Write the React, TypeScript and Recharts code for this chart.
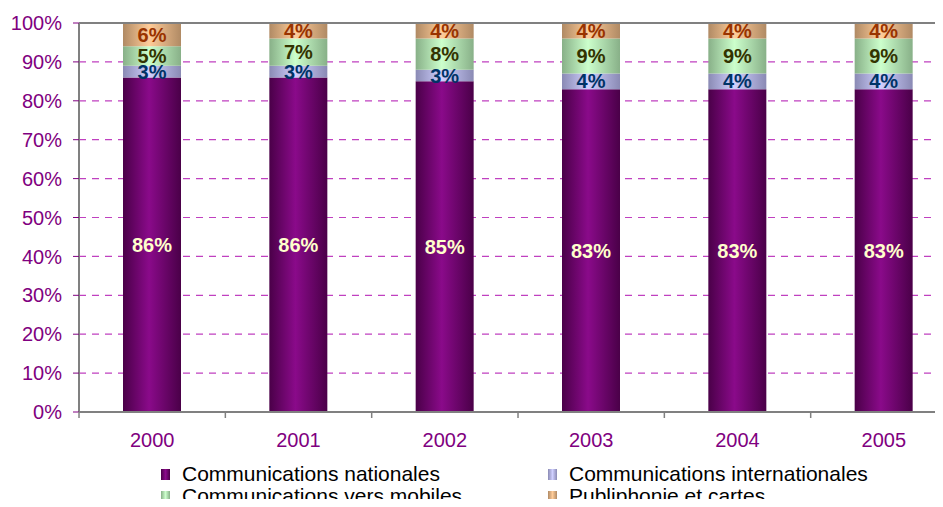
import { Bar, BarChart, CartesianGrid, LabelList, ReferenceLine, XAxis, YAxis } from 'recharts';

const years = ['2000', '2001', '2002', '2003', '2004', '2005'];
const nationales = [86, 86, 85, 83, 83, 83];
const internationales = [3, 3, 3, 4, 4, 4];
const mobiles = [5, 7, 8, 9, 9, 9];
const publiphonie = [6, 4, 4, 4, 4, 4];
const yTicks = [0, 10, 20, 30, 40, 50, 60, 70, 80, 90, 100];

const series = [
  { key: 'nat', name: 'Communications nationales', light: '#8a0a8a', dark: '#4a0048', label: '#ffffcc' },
  { key: 'int', name: 'Communications internationales', light: '#d0d0ff', dark: '#8a8ab4', label: '#003366' },
  { key: 'mob', name: 'Communications vers mobiles', light: '#ccffcc', dark: '#88b088', label: '#333300' },
  { key: 'pub', name: 'Publiphonie et cartes', light: '#ffcc99', dark: '#b08a64', label: '#993300' },
];

const data = years.map((year, i) => ({
  year,
  nat: nationales[i],
  int: internationales[i],
  mob: mobiles[i],
  pub: publiphonie[i],
}));

const FONT = 'Arial, "Liberation Sans", sans-serif';
const PURPLE = '#800080';
const BAND = 146.3;

const XTick = ({ x, y, payload }: any) => (
  <g>
    <line x1={x - BAND / 2} x2={x - BAND / 2} y1={y} y2={y + 6} stroke="#808080" strokeWidth={1.5} />
    <text x={x} y={y + 35} textAnchor="middle" fill={PURPLE} fontSize={20} fontFamily={FONT}>
      {payload.value}
    </text>
  </g>
);

const legendPos = [
  { left: 161, top: 462 },
  { left: 548, top: 462 },
  { left: 161, top: 484 },
  { left: 548, top: 484 },
];

export default function App() {
  return (
    <div style={{ position: 'relative', width: 943, height: 507, margin: -8, overflow: 'hidden', background: '#fff' }}>
      <BarChart
        width={943}
        height={507}
        data={data}
        margin={{ top: 23, right: -14, left: 0, bottom: 65 }}
        barSize={58}
      >
        <defs>
          {series.map((s) => (
            <linearGradient key={s.key} id={`g-${s.key}`} x1="0" y1="0" x2="1" y2="0">
              <stop offset="0%" stopColor={s.dark} />
              <stop offset="45%" stopColor={s.light} />
              <stop offset="100%" stopColor={s.dark} />
            </linearGradient>
          ))}
        </defs>
        <CartesianGrid vertical={false} stroke="#c040c0" strokeDasharray="7 6" strokeWidth={1.2} />
        <XAxis
          dataKey="year"
          height={30}
          tickSize={0}
          tickMargin={0}
          tickLine={false}
          tick={<XTick />}
          axisLine={{ stroke: '#808080', strokeWidth: 2 }}
          interval={0}
        />
        <YAxis
          width={79}
          domain={[0, 100]}
          ticks={yTicks}
          interval={0}
          tickFormatter={(v) => `${v}%`}
          tick={{ fill: PURPLE, fontSize: 20, fontFamily: FONT }}
          tickSize={6}
          tickMargin={11}
          tickLine={{ stroke: PURPLE }}
          axisLine={{ stroke: '#808080', strokeWidth: 2 }}
        />
        <ReferenceLine y={100} stroke="#808080" strokeWidth={2} />
        {series.map((s) => (
          <Bar key={s.key} dataKey={s.key} stackId="a" fill={`url(#g-${s.key})`} isAnimationActive={false}>
            <LabelList
              dataKey={s.key}
              position="center"
              formatter={(v: any) => `${v}%`}
              fill={s.label}
              fontSize={20}
              fontWeight="bold"
              fontFamily={FONT}
            />
          </Bar>
        ))}
      </BarChart>
      {series.map((s, i) => (
        <div
          key={s.key}
          style={{
            position: 'absolute',
            left: legendPos[i].left,
            top: legendPos[i].top,
            display: 'flex',
            alignItems: 'center',
            fontFamily: FONT,
            fontSize: 21,
            lineHeight: '24px',
            color: '#000',
            whiteSpace: 'nowrap',
          }}
        >
          <span
            style={{
              display: 'inline-block',
              width: 9,
              height: 11,
              marginRight: 12,
              background: `linear-gradient(to right, ${s.dark}, ${s.light}, ${s.dark})`,
            }}
          />
          {s.name}
        </div>
      ))}
    </div>
  );
}
